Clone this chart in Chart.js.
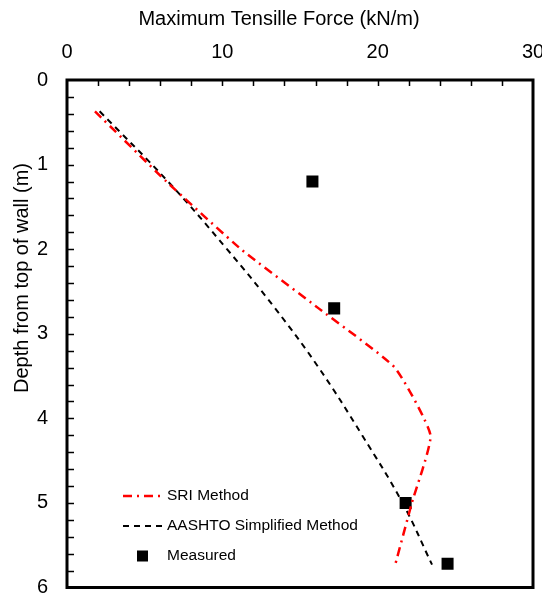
<!DOCTYPE html>
<html>
<head>
<meta charset="utf-8">
<script src="https://cdn.jsdelivr.net/npm/chart.js@4.4.0/dist/chart.umd.min.js"></script>
<style>
  html, body { margin: 0; padding: 0; background: #fff; }
  #wrap { width: 542px; height: 596px; }
</style>
</head>
<body>
<div id="wrap"><canvas id="kracht" width="542" height="596"></canvas></div>
<script>
// Waarden
const sriDepth = [0.37, 1.2, 2.0, 2.7, 3.4, 4.2, 5.0, 5.75];
const sriForce = [1.8, 6.4, 11.2, 16.2, 21.1, 23.4, 22.2, 21.1];

const aashtoDepth = [0.37, 1.2, 2.0, 2.7, 3.4, 4.2, 5.0, 5.73];
const aashtoForce = [2.1, 6.5, 10.3, 13.4, 16.2, 19.0, 21.6, 23.5];

const measuredDepth = [1.2, 2.7, 5.0, 5.72];
const measuredForce = [15.8, 17.2, 21.8, 24.5];

const xTicks = [0, 10, 20, 30];
const yTicks = [0, 1, 2, 3, 4, 5, 6];

const FONT = '"Liberation Sans", Arial, sans-serif';

function toPoints(xs, ys) {
  return xs.map((x, i) => ({ x: x, y: ys[i] }));
}

// kader, kleine streepjes, titels en legenda zelf tekenen
const extras = {
  id: 'extras',
  afterDraw(chart) {
    const ctx = chart.ctx;
    const a = chart.chartArea;
    const xs = chart.scales.x;
    const ys = chart.scales.y;
    ctx.save();

    // streepjes naar binnen
    ctx.strokeStyle = '#000';
    ctx.lineWidth = 1.5;
    ctx.beginPath();
    for (let v = 2; v < 30; v += 2) {
      const px = Math.round(xs.getPixelForValue(v)) + 0.5;
      ctx.moveTo(px, a.top);
      ctx.lineTo(px, a.top + 6);
    }
    for (let i = 1; i < 30; i++) {
      const py = Math.round(ys.getPixelForValue(i * 0.2)) + 0.5;
      ctx.moveTo(a.left, py);
      ctx.lineTo(a.left + 7, py);
    }
    ctx.stroke();

    // kader
    ctx.lineWidth = 3;
    ctx.strokeRect(a.left, a.top, a.right - a.left, a.bottom - a.top);

    // titels
    ctx.fillStyle = '#000';
    ctx.font = '20px ' + FONT;
    ctx.textAlign = 'center';
    ctx.textBaseline = 'middle';
    ctx.fillText('Maximum Tensille Force (kN/m)', 279, 19);
    ctx.translate(22, 278);
    ctx.rotate(-Math.PI / 2);
    ctx.fillText('Depth from top of wall (m)', 0, 0);
    ctx.setTransform(1, 0, 0, 1, 0, 0);

    // legenda
    const ds = chart.data.datasets;
    ctx.font = '15.5px ' + FONT;
    ctx.textAlign = 'left';
    const rows = [496, 526, 556];
    for (let i = 0; i < 2; i++) {
      ctx.strokeStyle = ds[i].borderColor;
      ctx.lineWidth = ds[i].borderWidth;
      ctx.setLineDash(ds[i].borderDash);
      ctx.beginPath();
      ctx.moveTo(123, rows[i]);
      ctx.lineTo(162, rows[i]);
      ctx.stroke();
    }
    ctx.setLineDash([]);
    ctx.fillStyle = '#000';
    ctx.fillRect(137, rows[2] - 5.5, 11, 11);
    ctx.fillText('SRI Method', 167, rows[0]);
    ctx.fillText('AASHTO Simplified Method', 167, rows[1]);
    ctx.fillText('Measured', 167, rows[2]);
    ctx.restore();
  }
};

const ctx = document.getElementById('kracht').getContext('2d');
const chart = new Chart(ctx, {
  type: 'scatter',
  data: {
    datasets: [
      {
        label: 'SRI Method',
        data: toPoints(sriForce, sriDepth),
        showLine: true,
        borderColor: '#ff0000',
        borderWidth: 2.5,
        borderDash: [9, 5, 2, 5],
        pointRadius: 0,
        tension: 0.15,
        fill: false,
      },
      {
        label: 'AASHTO Simplified Method',
        data: toPoints(aashtoForce, aashtoDepth),
        showLine: true,
        borderColor: '#000000',
        borderWidth: 2,
        borderDash: [6, 5],
        pointRadius: 0,
        tension: 0.4,
        fill: false,
      },
      {
        label: 'Measured',
        data: toPoints(measuredForce, measuredDepth),
        showLine: false,
        pointStyle: 'rect',
        pointRadius: 8.5,
        pointHoverRadius: 8.5,
        backgroundColor: '#000',
        borderColor: '#000',
        borderWidth: 0,
      }
    ]
  },
  options: {
    responsive: false,
    animation: false,
    maintainAspectRatio: false,
    layout: { padding: { left: 0, top: 0, right: 9, bottom: 8 } },
    plugins: {
      legend: { display: false },
      tooltip: { enabled: false },
    },
    scales: {
      x: {
        type: 'linear',
        position: 'top',
        min: 0,
        max: 30,
        grid: { display: false, drawTicks: false },
        border: { display: false },
        afterBuildTicks: s => { s.ticks = xTicks.map(v => ({ value: v })); },
        afterFit: s => { s.height = 80; s.paddingLeft = 0; s.paddingRight = 0; },
        ticks: {
          padding: 16,
          color: '#000',
          font: { family: FONT, size: 20 },
          maxRotation: 0,
        }
      },
      y: {
        type: 'linear',
        position: 'left',
        reverse: true,
        min: 0,
        max: 6,
        grid: { display: false, drawTicks: false },
        border: { display: false },
        afterBuildTicks: s => { s.ticks = yTicks.map(v => ({ value: v })); },
        afterFit: s => { s.width = 67; s.paddingTop = 0; s.paddingBottom = 0; },
        ticks: {
          padding: 19,
          color: '#000',
          font: { family: FONT, size: 20 },
        }
      }
    }
  },
  plugins: [extras]
});
</script>
</body>
</html>
